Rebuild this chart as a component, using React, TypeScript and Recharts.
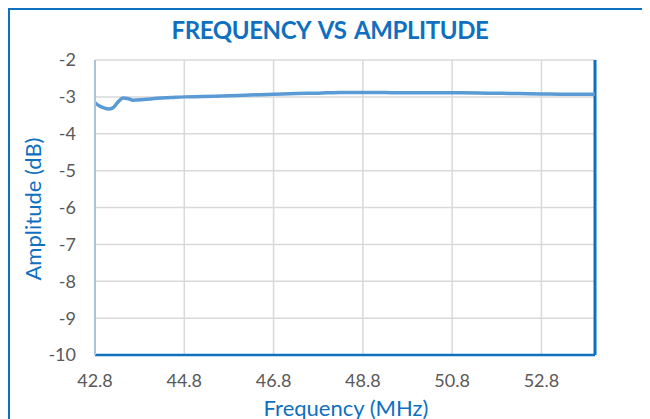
import React from 'react';
import { LineChart, Line, XAxis, YAxis, CartesianGrid, ReferenceLine } from 'recharts';

// values
const frequencies = [42.8, 42.9, 43.0, 43.1, 43.2, 43.3, 43.43, 43.55, 43.65, 43.9, 44.2, 44.5, 44.8, 45.2, 45.5, 46.0, 46.5, 46.8, 47.3, 47.8, 48.3, 48.8, 49.3, 49.6, 50.2, 51.0, 51.6, 52.3, 52.8, 53.4, 54.0];
const amplitudes = [-3.16, -3.25, -3.3, -3.33, -3.3, -3.16, -3.03, -3.05, -3.09, -3.07, -3.04, -3.02, -3.0, -2.99, -2.98, -2.96, -2.94, -2.93, -2.91, -2.9, -2.88, -2.88, -2.88, -2.89, -2.89, -2.89, -2.9, -2.91, -2.92, -2.93, -2.93];
const xTicks = [42.8, 44.8, 46.8, 48.8, 50.8, 52.8];
const yTicks = [-10, -9, -8, -7, -6, -5, -4, -3, -2];

const data = frequencies.map((f, i) => ({ freq: f, amp: amplitudes[i] }));

const BLUE = '#1070C0';
const font = 'Lato, "Open Sans", sans-serif';

export default function App() {
  return (
    <div style={{ position: 'relative', width: 642, height: 411, overflow: 'hidden', fontFamily: font }}>
      <div
        style={{
          position: 'absolute', left: 0, top: 0, width: 700, height: 460,
          borderLeft: `2px solid ${BLUE}`, borderTop: `2px solid ${BLUE}`, boxSizing: 'border-box',
        }}
      />
      <div
        style={{
          position: 'absolute', left: 0, width: 644, top: 7, textAlign: 'center',
          color: BLUE, fontWeight: 700, fontSize: 24, letterSpacing: -0.4, wordSpacing: 3,
        }}
      >
        FREQUENCY VS AMPLITUDE
      </div>
      <div
        style={{
          position: 'absolute', left: 24, top: 201, transform: 'translate(-50%, -50%) rotate(-90deg)',
          color: BLUE, fontSize: 22, whiteSpace: 'nowrap',
        }}
      >
        Amplitude (dB)
      </div>
      <div
        style={{
          position: 'absolute', left: 338, top: 399, transform: 'translate(-50%, -50%)',
          color: BLUE, fontSize: 22, whiteSpace: 'nowrap',
        }}
      >
        Frequency (MHz)
      </div>
      <div style={{ position: 'absolute', left: 0, top: 0 }}>
        <LineChart width={642} height={411} data={data} margin={{ top: 52, right: 55, bottom: 34, left: 0 }}>
          <CartesianGrid stroke="#D9D9D9" strokeWidth={1.5} />
          <XAxis
            dataKey="freq"
            type="number"
            domain={[42.8, 54]}
            ticks={xTicks}
            tickFormatter={(v: number) => v.toFixed(1)}
            axisLine={{ stroke: BLUE, strokeWidth: 2.5 }}
            tickLine={false}
            tickSize={0}
            tickMargin={19}
            height={30}
            tick={{ fill: '#595959', fontSize: 18, fontFamily: font }}
          />
          <YAxis
            type="number"
            domain={[-10, -2]}
            ticks={yTicks}
            width={87}
            axisLine={{ stroke: '#A9C4DD', strokeWidth: 2 }}
            tickLine={false}
            tickSize={0}
            tickMargin={19}
            tick={{ fill: '#595959', fontSize: 18, fontFamily: font }}
          />
          <ReferenceLine x={54} stroke={BLUE} strokeWidth={3} />
          <Line
            type="monotone"
            dataKey="amp"
            stroke="#5B9BD5"
            strokeWidth={3.5}
            dot={false}
            isAnimationActive={false}
          />
        </LineChart>
      </div>
    </div>
  );
}
